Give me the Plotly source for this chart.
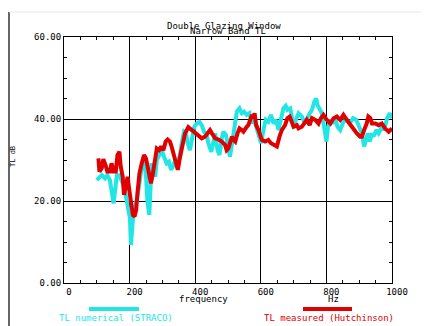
import plotly.graph_objects as go

# Measured TL (Hutchinson) - red
freq_meas = [105,108,115,120,128,132,140,145,151,158,163,169,173,179,183,189,194,199,204,210,215,220,224,230,237,244,250,255,260,265,271,276,283,290,296,303,310,316,323,328,334,341,347,354,362,369,379,390,400,410,420,430,440,445,451,461,471,481,491,496,501,506,512,517,522,529,535,542,547,557,562,573,578,581,586,593,603,613,623,631,639,649,657,664,674,681,688,695,700,710,715,725,732,740,749,756,766,776,783,791,801,812,822,832,842,852,862,873,883,893,903,908,915,923,928,934,939,949,959,969,979,990,1000]
tl_meas = [30.4,27.2,28.0,30.2,28.4,27.2,27.2,29.2,27.2,27.2,31.2,32.0,28.4,25.9,21.5,23.5,25.9,22.7,19.4,16.6,16.2,17.8,21.9,26.7,29.2,31.2,30.4,28.4,25.9,24.3,26.7,29.2,32.8,32.4,33.3,32.4,34.5,35.0,34.5,33.3,31.6,29.2,27.6,30.8,34.1,36.5,38.0,37.3,36.5,36.1,35.3,35.7,36.9,37.3,36.5,35.3,35.0,34.5,33.7,32.4,32.8,34.5,35.7,34.9,34.5,36.5,37.7,37.3,36.9,38.1,38.5,41.0,40.2,41.4,38.5,37.3,34.9,34.5,34.9,34.1,33.7,33.3,35.7,37.3,38.5,40.2,40.6,39.3,38.1,38.5,37.7,38.1,38.8,39.8,38.5,40.2,39.8,38.9,40.2,41.0,39.8,38.9,40.2,40.6,39.8,41.0,39.8,38.5,37.7,36.5,35.7,35.7,37.3,38.9,40.6,40.2,38.9,38.9,38.5,38.9,37.7,36.9,37.7]

# Numerical TL (STRACO) - cyan
freq_num = [100,107,115,125,132,140,145,151,156,161,169,176,183,189,196,201,204,210,217,222,230,237,244,250,254,257,260,264,267,273,278,283,291,298,305,313,320,326,332,339,344,352,359,366,372,377,384,390,397,405,413,420,427,435,440,449,456,461,468,474,481,486,494,501,506,514,520,527,535,542,549,557,565,573,578,586,593,601,608,615,623,631,639,647,654,661,669,676,681,690,695,700,707,715,725,735,746,756,763,769,773,779,786,793,800,805,812,819,827,834,842,852,862,871,881,891,901,908,915,921,926,932,939,944,952,959,969,976,985,993,1000]
tl_num = [25.1,25.8,26.3,25.5,26.3,25.1,21.9,19.4,22.7,26.3,26.3,24.7,23.5,21.1,17.8,15.8,9.3,15.4,19.0,20.2,24.3,28.4,29.6,26.3,20.2,16.6,16.6,23.5,29.2,27.6,25.9,30.0,31.6,32.4,30.8,29.2,29.6,27.6,28.4,30.0,28.4,30.8,34.1,36.9,36.5,34.1,32.4,35.7,38.1,38.9,39.3,38.5,36.9,36.1,34.1,32.0,34.1,36.5,32.4,31.2,35.3,36.9,36.1,33.3,30.8,34.9,38.9,41.8,42.6,41.4,41.8,41.0,41.4,38.9,40.2,38.1,36.5,34.1,37.3,39.8,39.3,41.0,38.9,39.8,37.3,39.8,42.6,43.2,42.2,42.6,39.8,38.1,39.8,41.4,40.6,38.9,41.0,42.2,44.2,45.0,43.4,42.2,41.4,38.1,34.5,38.1,39.8,38.9,40.2,38.1,37.3,39.3,39.8,38.9,40.2,39.8,38.1,36.5,33.3,34.9,36.5,34.5,36.5,35.7,37.3,36.5,38.1,37.3,40.2,41.4,40.2]

x_ticks = [0, 200, 400, 600, 800, 1000]
y_ticks = [0, 20, 40, 60]
y_ticklabels = ["0.00", "20.00", "40.00", "60.00"]

CYAN = "#22e6e6"
RED = "#e00000"
FONT = "DejaVu Sans Mono"

fig = go.Figure()
fig.add_trace(go.Scatter(x=freq_num, y=tl_num, mode="lines",
                         line=dict(color=CYAN, width=4), showlegend=False))
fig.add_trace(go.Scatter(x=freq_meas, y=tl_meas, mode="lines",
                         line=dict(color=RED, width=4), showlegend=False))

axis_common = dict(showline=True, linecolor="black", linewidth=1, mirror="allticks",
                   showgrid=True, gridcolor="black", gridwidth=1, zeroline=False,
                   ticks="inside", ticklen=0, tickcolor="black",
                   tickfont=dict(family=FONT, size=9, color="black"))

fig.update_xaxes(range=[0, 1000], tickvals=x_ticks, ticktext=[str(v) for v in x_ticks],
                 ticklabelshift=5,
                 minor=dict(dtick=50, ticks="inside", ticklen=3, tickcolor="black", showgrid=False),
                 **axis_common)
fig.update_yaxes(range=[0, 60], tickvals=y_ticks, ticktext=y_ticklabels,
                 minor=dict(dtick=5, ticks="inside", ticklen=3, tickcolor="black", showgrid=False),
                 **axis_common)

def ann(text, x, y, size=9, color="black", angle=0):
    fig.add_annotation(text=text, x=x, y=y, xref="paper", yref="paper", showarrow=False,
                       font=dict(family=FONT, size=size, color=color), textangle=angle,
                       xanchor="center", yanchor="middle")

W, H = 328.0, 246.0
def px(x):
    return (x - 64) / W
def py(y):
    return (283 - y) / H

ann("Double Glazing Window", px(224), py(26))
ann("Narrow Band TL", px(228), py(31))
ann("frequency", px(203), py(298.5))
ann("Hz", px(333), py(298.5))
ann("TL dB", px(13), py(157), size=7, angle=-90)
ann("TL numerical (STRACO)", px(116), py(318), color=CYAN)
ann("TL measured (Hutchinson)", px(329), py(318), color=RED)

fig.add_shape(type="line", xref="paper", yref="paper", x0=px(89), x1=px(139), y0=py(309), y1=py(309),
              line=dict(color=CYAN, width=4))
fig.add_shape(type="line", xref="paper", yref="paper", x0=px(303), x1=px(352), y0=py(309), y1=py(309),
              line=dict(color=RED, width=4))
fig.add_shape(type="line", xref="paper", yref="paper", x0=px(9), x1=px(9), y0=py(12), y1=py(330),
              line=dict(color="#333333", width=1.5))
fig.add_shape(type="line", xref="paper", yref="paper", x0=px(9), x1=px(429), y0=py(12), y1=py(12),
              line=dict(color="#e6e6e6", width=1))

# page body adds an 8px offset; size the figure so the plot area lands where the reference has it
fig.update_layout(width=421, height=318, margin=dict(l=56, r=37, t=29, b=43, autoexpand=False),
                  paper_bgcolor="white", plot_bgcolor="white", showlegend=False)

fig.write_html("out.html")
